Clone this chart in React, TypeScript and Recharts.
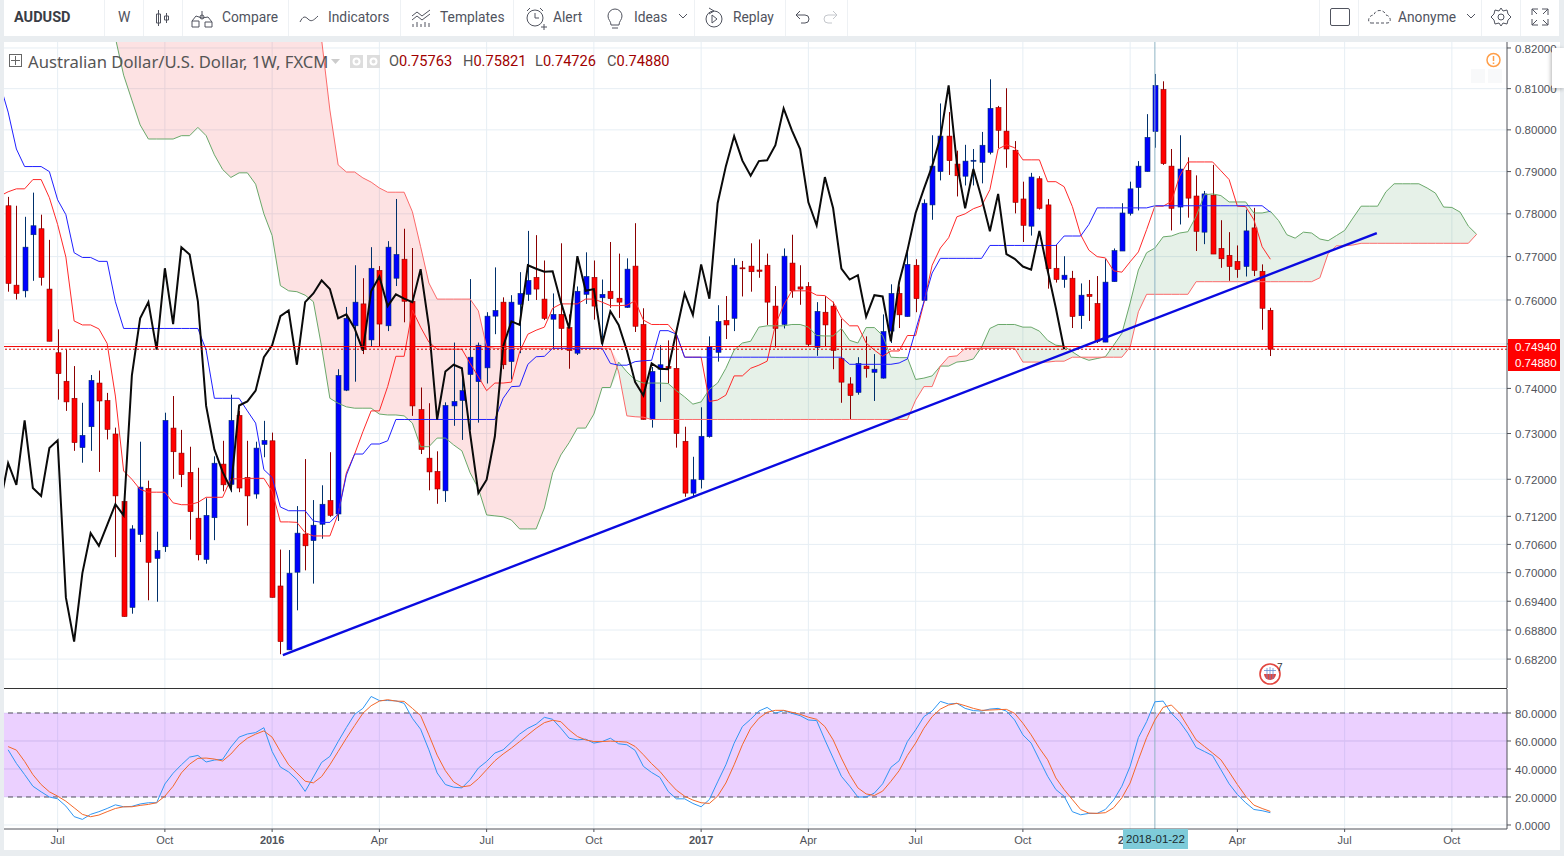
import React from 'react';
import {
	Area,
	Bar,
	CartesianGrid,
	ComposedChart,
	Line,
	ReferenceArea,
	ReferenceLine,
	XAxis,
	YAxis,
} from 'recharts';

// weekly AUDUSD, one entry per week
const opens = [
	0.7819, 0.7634, 0.7621, 0.7751, 0.7765, 0.7625, 0.748, 0.7416, 0.7378, 0.7269,
	0.7315, 0.7412, 0.7373, 0.7299, 0.7152, 0.6927, 0.7081, 0.718, 0.703, 0.7055,
	0.7312, 0.7257, 0.7215, 0.7116, 0.7028, 0.7117, 0.7233, 0.7189, 0.734, 0.7204,
	0.7168, 0.7276, 0.7284, 0.6972, 0.6839, 0.7001, 0.7082, 0.7068, 0.7103, 0.7154,
	0.7125, 0.7396, 0.7541, 0.7591, 0.7509, 0.7668, 0.7541, 0.765, 0.7694, 0.7597,
	0.7353, 0.7246, 0.7217, 0.7175, 0.7361, 0.7373, 0.7431, 0.7415, 0.7446, 0.7563,
	0.7595, 0.746, 0.759, 0.7613, 0.7652, 0.7602, 0.7556, 0.7567, 0.7537, 0.7479,
	0.7613, 0.7652, 0.7605, 0.762, 0.7604, 0.7583, 0.7678, 0.7544, 0.7331, 0.7443,
	0.7449, 0.7445, 0.7283, 0.717, 0.7199, 0.7293, 0.7481, 0.7553, 0.7558, 0.7674,
	0.7678, 0.7669, 0.768, 0.7586, 0.7544, 0.7685, 0.763, 0.7631, 0.7492, 0.7572,
	0.7586, 0.7467, 0.741, 0.7391, 0.745, 0.7436, 0.7423, 0.7529, 0.7615, 0.7562,
	0.768, 0.7599, 0.7821, 0.79, 0.7985, 0.7918, 0.7889, 0.7926, 0.7922, 0.7946,
	0.8054, 0.7997, 0.7951, 0.7835, 0.7771, 0.7883, 0.7821, 0.7673, 0.7647, 0.765,
	0.7564, 0.7613, 0.7592, 0.7504, 0.7642, 0.7713, 0.7801, 0.7862, 0.79, 0.7996,
	0.8098, 0.7913, 0.7816, 0.7903, 0.7842, 0.7757, 0.7844, 0.7719, 0.7703, 0.7689,
	0.7677, 0.7767, 0.7666, 0.75763,
];
const highs = [
	0.784, 0.7819, 0.7793, 0.785, 0.7798, 0.7739, 0.7533, 0.7487, 0.745, 0.7368,
	0.743, 0.744, 0.739, 0.7313, 0.7163, 0.7101, 0.7282, 0.7197, 0.7087, 0.7346,
	0.7383, 0.7308, 0.7271, 0.7225, 0.7159, 0.725, 0.7284, 0.7386, 0.735, 0.7284,
	0.7282, 0.7328, 0.7302, 0.7049, 0.7048, 0.7142, 0.7244, 0.7155, 0.7187, 0.7259,
	0.7443, 0.7584, 0.768, 0.765, 0.7722, 0.7678, 0.7736, 0.7835, 0.7765, 0.772,
	0.7402, 0.7367, 0.7261, 0.7369, 0.7503, 0.7446, 0.7648, 0.7503, 0.7572, 0.7675,
	0.7606, 0.7611, 0.7664, 0.776, 0.775, 0.7691, 0.7615, 0.7731, 0.7567, 0.7631,
	0.771, 0.7691, 0.7647, 0.7734, 0.7707, 0.7696, 0.7778, 0.7581, 0.7448, 0.7497,
	0.7508, 0.7526, 0.7315, 0.7249, 0.7358, 0.7517, 0.7588, 0.7609, 0.7696, 0.769,
	0.7731, 0.774, 0.7707, 0.7632, 0.7719, 0.7751, 0.768, 0.7641, 0.7595, 0.7609,
	0.7596, 0.7557, 0.7425, 0.747, 0.7517, 0.7477, 0.7567, 0.7636, 0.7631, 0.7711,
	0.7694, 0.7834, 0.7987, 0.8064, 0.8043, 0.795, 0.7964, 0.7954, 0.7995, 0.8123,
	0.8058, 0.8101, 0.7973, 0.7876, 0.7897, 0.7889, 0.7835, 0.7727, 0.7701, 0.7667,
	0.7638, 0.7646, 0.7655, 0.7694, 0.7719, 0.7825, 0.7876, 0.7925, 0.8038, 0.8136,
	0.8118, 0.7954, 0.7987, 0.7934, 0.7891, 0.7854, 0.7916, 0.7785, 0.7757, 0.7726,
	0.781, 0.7814, 0.7682, 0.75821,
];
const lows = [
	0.7619, 0.7601, 0.7606, 0.7644, 0.7633, 0.7506, 0.7375, 0.735, 0.7262, 0.7236,
	0.7262, 0.7216, 0.7287, 0.7033, 0.6908, 0.6914, 0.7065, 0.6942, 0.6939, 0.7044,
	0.7201, 0.7183, 0.707, 0.7026, 0.7019, 0.7069, 0.7174, 0.7172, 0.7172, 0.71,
	0.7158, 0.7248, 0.6948, 0.683, 0.6839, 0.6921, 0.7005, 0.6977, 0.7072, 0.7119,
	0.711, 0.7394, 0.7415, 0.7477, 0.7495, 0.7495, 0.7529, 0.7632, 0.7549, 0.7339,
	0.7255, 0.7176, 0.7147, 0.7151, 0.7317, 0.7286, 0.7308, 0.7324, 0.7411, 0.7522,
	0.7443, 0.742, 0.7479, 0.7598, 0.76, 0.7554, 0.7488, 0.7486, 0.7444, 0.7475,
	0.7591, 0.7555, 0.7493, 0.7582, 0.7559, 0.7582, 0.7527, 0.7331, 0.7313, 0.737,
	0.7411, 0.7269, 0.7162, 0.7163, 0.718, 0.7291, 0.746, 0.7511, 0.7529, 0.7608,
	0.7619, 0.7651, 0.7543, 0.7492, 0.7535, 0.7605, 0.7589, 0.7495, 0.7473, 0.7495,
	0.7443, 0.7368, 0.7331, 0.7386, 0.7424, 0.7372, 0.7422, 0.7502, 0.7536, 0.7562,
	0.7572, 0.7599, 0.7786, 0.7879, 0.7892, 0.7841, 0.7867, 0.7867, 0.7872, 0.7941,
	0.7956, 0.7909, 0.7801, 0.7734, 0.7749, 0.781, 0.7626, 0.764, 0.7628, 0.7536,
	0.7534, 0.7552, 0.7502, 0.7504, 0.7642, 0.7713, 0.7796, 0.7808, 0.79, 0.7957,
	0.7916, 0.7761, 0.7775, 0.7791, 0.7713, 0.7729, 0.7706, 0.7674, 0.7644, 0.7651,
	0.7654, 0.7655, 0.7532, 0.74726,
];
const closes = [
	0.7638, 0.7615, 0.7722, 0.7772, 0.7652, 0.7506, 0.7433, 0.737, 0.728, 0.7296,
	0.7418, 0.7372, 0.7309, 0.7164, 0.6908, 0.7093, 0.7183, 0.7022, 0.7047, 0.7329,
	0.726, 0.721, 0.713, 0.7038, 0.7122, 0.7235, 0.7188, 0.7329, 0.7181, 0.7164,
	0.7268, 0.7285, 0.6948, 0.6856, 0.6999, 0.7084, 0.7057, 0.7101, 0.7146, 0.7122,
	0.7429, 0.7558, 0.7595, 0.7487, 0.7673, 0.7545, 0.7722, 0.7705, 0.7597, 0.7361,
	0.7265, 0.7216, 0.7179, 0.7362, 0.7371, 0.7395, 0.747, 0.7497, 0.7563, 0.7576,
	0.7453, 0.7595, 0.7615, 0.7645, 0.7625, 0.7558, 0.7567, 0.7535, 0.7485, 0.762,
	0.7654, 0.7586, 0.7613, 0.7603, 0.7595, 0.7671, 0.754, 0.7331, 0.7438, 0.7453,
	0.7445, 0.73, 0.717, 0.7199, 0.7294, 0.7494, 0.7551, 0.7543, 0.768, 0.7672,
	0.7665, 0.7666, 0.7595, 0.7535, 0.7701, 0.7621, 0.7625, 0.7499, 0.7574, 0.7543,
	0.7485, 0.7414, 0.7384, 0.7456, 0.7444, 0.7443, 0.7528, 0.7615, 0.7566, 0.7682,
	0.7603, 0.7825, 0.7913, 0.7985, 0.7926, 0.789, 0.7925, 0.7927, 0.7963, 0.8052,
	0.7999, 0.7954, 0.7827, 0.7773, 0.7887, 0.7813, 0.7672, 0.7647, 0.7657, 0.7562,
	0.7611, 0.7608, 0.7506, 0.7641, 0.7714, 0.7802, 0.7859, 0.7913, 0.7982, 0.8108,
	0.7919, 0.7813, 0.7906, 0.7837, 0.7759, 0.7847, 0.7706, 0.7695, 0.7677, 0.767,
	0.776, 0.7668, 0.7581, 0.7488,
];

const tenkan = [
	0.7852, 0.7859, 0.7859, 0.7881, 0.7881, 0.7838, 0.7775, 0.7699, 0.7552, 0.7543,
	0.7543, 0.7534, 0.7501, 0.7383, 0.7218, 0.72, 0.7178, 0.7172, 0.7172, 0.7172,
	0.7149, 0.7145, 0.7145, 0.715, 0.7161, 0.7161, 0.7161, 0.7201, 0.7201, 0.7202,
	0.7202, 0.7202, 0.7174, 0.7108, 0.7108, 0.7107, 0.7085, 0.7078, 0.7078, 0.7078,
	0.7125, 0.7214, 0.7255, 0.7304, 0.735, 0.735, 0.7404, 0.7472, 0.7472, 0.7577,
	0.7538, 0.7504, 0.7488, 0.7488, 0.7488, 0.7488, 0.7456, 0.7426, 0.7395, 0.7412,
	0.7412, 0.7414, 0.7482, 0.7522, 0.7531, 0.7538, 0.7581, 0.7591, 0.7591, 0.7591,
	0.7602, 0.7602, 0.7595, 0.7587, 0.7587, 0.7588, 0.7598, 0.7554, 0.7544, 0.7544,
	0.7544, 0.7522, 0.747, 0.747, 0.747, 0.7371, 0.7374, 0.7385, 0.7428, 0.7428,
	0.7445, 0.7452, 0.7461, 0.7543, 0.7588, 0.7621, 0.7621, 0.7621, 0.7611, 0.761,
	0.7595, 0.7559, 0.7541, 0.7541, 0.7502, 0.7486, 0.7472, 0.7484, 0.7484, 0.7519,
	0.7519, 0.7593, 0.768, 0.772, 0.7744, 0.7793, 0.78, 0.7812, 0.7819, 0.7857,
	0.7954, 0.7964, 0.7957, 0.7928, 0.7928, 0.7928, 0.7876, 0.7876, 0.7864, 0.7817,
	0.7751, 0.7715, 0.77, 0.7697, 0.7667, 0.7664, 0.7688, 0.7711, 0.7763, 0.7818,
	0.7818, 0.7829, 0.7889, 0.7923, 0.7923, 0.7923, 0.7923, 0.7902, 0.7881, 0.7818,
	0.7817, 0.7786, 0.7723, 0.7694,
];
const kijun = [
	0.8043, 0.7954, 0.7912, 0.7912, 0.7912, 0.79, 0.7833, 0.7798, 0.7709, 0.7698,
	0.7698, 0.7689, 0.7689, 0.7596, 0.7535, 0.7535, 0.7535, 0.7535, 0.7535, 0.7535,
	0.7535, 0.7535, 0.7535, 0.7535, 0.7486, 0.7378, 0.7378, 0.7378, 0.7378, 0.735,
	0.7323, 0.7221, 0.7204, 0.714, 0.7132, 0.7132, 0.7132, 0.711, 0.7107, 0.7107,
	0.7125, 0.7209, 0.7255, 0.7255, 0.7277, 0.7277, 0.7284, 0.7331, 0.7331, 0.7331,
	0.7331, 0.7331, 0.7331, 0.7331, 0.7331, 0.7331, 0.7331, 0.7331, 0.7331, 0.7331,
	0.7378, 0.7404, 0.7405, 0.7454, 0.7471, 0.7472, 0.749, 0.749, 0.749, 0.749,
	0.749, 0.749, 0.749, 0.7456, 0.7452, 0.7452, 0.746, 0.7462, 0.7463, 0.753,
	0.753, 0.7522, 0.747, 0.747, 0.747, 0.747, 0.747, 0.747, 0.747, 0.747,
	0.747, 0.747, 0.747, 0.747, 0.747, 0.747, 0.747, 0.747, 0.747, 0.747,
	0.747, 0.747, 0.7454, 0.7454, 0.7454, 0.7454, 0.7454, 0.7454, 0.7457, 0.7466,
	0.7531, 0.7596, 0.7662, 0.7696, 0.7696, 0.7696, 0.7696, 0.7696, 0.7696, 0.7726,
	0.7726, 0.7726, 0.7726, 0.7726, 0.7726, 0.7726, 0.7726, 0.7726, 0.7748, 0.7748,
	0.7748, 0.7775, 0.7814, 0.7814, 0.7814, 0.7814, 0.7814, 0.7814, 0.7814, 0.7819,
	0.7819, 0.7819, 0.7819, 0.7819, 0.7819, 0.7819, 0.7819, 0.7819, 0.7819, 0.7819,
	0.7819, 0.7819, 0.7819, 0.7804,
];
// lagging span, ends 25 weeks before the last candle
const chikou = [
	0.7235, 0.7188, 0.7329, 0.7181, 0.7164, 0.7268, 0.7285, 0.6948, 0.6856, 0.6999,
	0.7084, 0.7057, 0.7101, 0.7146, 0.7122, 0.7429, 0.7558, 0.7595, 0.7487, 0.7673,
	0.7545, 0.7722, 0.7705, 0.7597, 0.7361, 0.7265, 0.7216, 0.7179, 0.7362, 0.7371,
	0.7395, 0.747, 0.7497, 0.7563, 0.7576, 0.7453, 0.7595, 0.7615, 0.7645, 0.7625,
	0.7558, 0.7567, 0.7535, 0.7485, 0.762, 0.7654, 0.7586, 0.7613, 0.7603, 0.7595,
	0.7671, 0.754, 0.7331, 0.7438, 0.7453, 0.7445, 0.73, 0.717, 0.7199, 0.7294,
	0.7494, 0.7551, 0.7543, 0.768, 0.7672, 0.7665, 0.7666, 0.7595, 0.7535, 0.7701,
	0.7621, 0.7625, 0.7499, 0.7574, 0.7543, 0.7485, 0.7414, 0.7384, 0.7456, 0.7444,
	0.7443, 0.7528, 0.7615, 0.7566, 0.7682, 0.7603, 0.7825, 0.7913, 0.7985, 0.7926,
	0.789, 0.7925, 0.7927, 0.7963, 0.8052, 0.7999, 0.7954, 0.7827, 0.7773, 0.7887,
	0.7813, 0.7672, 0.7647, 0.7657, 0.7562, 0.7611, 0.7608, 0.7506, 0.7641, 0.7714,
	0.7802, 0.7859, 0.7913, 0.7982, 0.8108, 0.7919, 0.7813, 0.7906, 0.7837, 0.7759,
	0.7847, 0.7706, 0.7695, 0.7677, 0.767, 0.776, 0.7668, 0.7581, 0.7488,
];
// the week just off the left edge, the lines run out of the frame there
const leadIn = { idx: -1, tenkan: 0.7842, kijun: 0.8112, chikou: 0.7144 };

// cloud edges start at week 13 and run 25 weeks past the last candle
const cloudStart = 13;
const senkouA = [
	0.8225, 0.8133, 0.8072, 0.8012, 0.7978, 0.7978, 0.7978, 0.7978, 0.7986, 0.7986,
	0.8006, 0.7986, 0.794, 0.7905, 0.7886, 0.7897, 0.7897, 0.787, 0.78, 0.7749,
	0.7633, 0.7621, 0.7619, 0.7611, 0.7596, 0.7493, 0.7378, 0.7367, 0.7359, 0.7356,
	0.7356, 0.7356, 0.7343, 0.7341, 0.7341, 0.7339, 0.7323, 0.7271, 0.7271, 0.729,
	0.729, 0.7275, 0.7262, 0.7214, 0.718, 0.7123, 0.7121, 0.7119, 0.7112, 0.7093,
	0.7093, 0.7093, 0.7138, 0.7214, 0.7253, 0.728, 0.7312, 0.7312, 0.7343, 0.7402,
	0.7402, 0.7459, 0.7437, 0.7419, 0.7412, 0.7412, 0.7412, 0.7411, 0.7395, 0.7381,
	0.7365, 0.737, 0.7398, 0.7412, 0.7445, 0.7486, 0.7502, 0.7506, 0.7538, 0.7541,
	0.7541, 0.7541, 0.7544, 0.7544, 0.7538, 0.7519, 0.7518, 0.7518, 0.7535, 0.7508,
	0.7502, 0.7537, 0.7537, 0.7519, 0.747, 0.7469, 0.7469, 0.742, 0.7423, 0.7428,
	0.745, 0.745, 0.7459, 0.7461, 0.7466, 0.7493, 0.7535, 0.7544, 0.7544, 0.7544,
	0.7538, 0.7538, 0.7529, 0.7508, 0.7497, 0.7495, 0.7482, 0.747, 0.7463, 0.7467,
	0.7471, 0.7497, 0.7524, 0.7593, 0.7669, 0.7709, 0.772, 0.7746, 0.7748, 0.7755,
	0.7758, 0.7794, 0.7845, 0.7847, 0.7843, 0.7828, 0.7828, 0.7828, 0.7802, 0.7802,
	0.7806, 0.7784, 0.7751, 0.7743, 0.7757, 0.7755, 0.7741, 0.7737, 0.7749, 0.7761,
	0.779, 0.7818, 0.7818, 0.7818, 0.7852, 0.7871, 0.7871, 0.7871, 0.7871, 0.7861,
	0.7849, 0.7816, 0.7815, 0.7804, 0.7771, 0.7752,
];
const senkouB = [
	0.83, 0.83, 0.83, 0.83, 0.83, 0.83, 0.83, 0.83, 0.83, 0.83,
	0.83, 0.83, 0.83, 0.83, 0.83, 0.83, 0.83, 0.83, 0.83, 0.83,
	0.83, 0.83, 0.83, 0.83, 0.83, 0.822, 0.8048, 0.7916, 0.7899, 0.7899,
	0.7885, 0.7875, 0.7861, 0.7851, 0.7851, 0.7851, 0.7805, 0.7723, 0.7639, 0.7602,
	0.7602, 0.7602, 0.7602, 0.7602, 0.7575, 0.7493, 0.749, 0.749, 0.749, 0.749,
	0.749, 0.749, 0.749, 0.749, 0.749, 0.749, 0.749, 0.749, 0.749, 0.749,
	0.749, 0.7437, 0.7339, 0.7337, 0.7336, 0.7331, 0.7331, 0.7331, 0.7331, 0.7331,
	0.7331, 0.7331, 0.7331, 0.7331, 0.7331, 0.7331, 0.7331, 0.7331, 0.7331, 0.7331,
	0.7331, 0.7331, 0.7331, 0.7331, 0.7331, 0.7331, 0.7331, 0.7331, 0.7331, 0.7331,
	0.7331, 0.7331, 0.7331, 0.7331, 0.7331, 0.7331, 0.7331, 0.7374, 0.7404, 0.7404,
	0.745, 0.7471, 0.7473, 0.749, 0.749, 0.749, 0.749, 0.749, 0.749, 0.749,
	0.7459, 0.7459, 0.7459, 0.7459, 0.7461, 0.7461, 0.747, 0.747, 0.747, 0.747,
	0.747, 0.747, 0.747, 0.7493, 0.7573, 0.7613, 0.7613, 0.7613, 0.7613, 0.7613,
	0.7613, 0.7642, 0.7642, 0.7642, 0.7642, 0.7642, 0.7642, 0.7642, 0.7642, 0.7642,
	0.7642, 0.7642, 0.7642, 0.7642, 0.7642, 0.7642, 0.7651, 0.7707, 0.7725, 0.7725,
	0.7727, 0.7731, 0.7731, 0.7731, 0.7731, 0.7731, 0.7731, 0.7731, 0.7731, 0.7731,
	0.7731, 0.7731, 0.7731, 0.7731, 0.7731, 0.7752,
];

const stochK = [
	53.7, 44, 36, 27.7, 23.7, 20, 18.7, 13.5, 6, 4,
	7.6, 9.5, 11.8, 14.4, 13, 13.3, 15, 15.9, 15.9, 29.3,
	37, 43, 48.5, 49.7, 45, 46.4, 46.9, 55.7, 62.8, 65,
	66, 69.5, 52.5, 41.4, 37.9, 32.4, 24, 34.3, 44.7, 49,
	59.6, 69.6, 79, 83.3, 91.8, 88.9, 88.9, 88.7, 86.9, 76.2,
	68.4, 53.7, 37.2, 28.9, 27, 26.5, 32.4, 40.7, 45.4, 51.4,
	53.7, 59.2, 64.9, 69.1, 72, 76.9, 75.5, 69.1, 62, 60.8,
	61.3, 58.5, 59.6, 62, 58, 57.3, 53.3, 41.9, 37.5, 34,
	24, 18.7, 18.7, 15.4, 13, 18.2, 30.8, 43, 58.4, 70.3,
	75.5, 81.4, 84, 79.8, 81.7, 79.8, 78.1, 75, 74.6, 60.8,
	47.8, 34.8, 27.7, 20, 20, 22.8, 29.4, 41.2, 45.9, 59.6,
	67.9, 77.4, 81.4, 88.3, 86.4, 86.9, 83.3, 81.7, 81.4, 82.8,
	83.3, 81.4, 75, 64.4, 58.5, 46.6, 34.8, 25.3, 20.5, 9.5,
	7.3, 8.3, 8.3, 11.1, 17.8, 27.7, 41.9, 62.4, 73.8, 88,
	88.5, 79.8, 73.8, 65.6, 55.4, 52.5, 49.5, 39.5, 29.4, 21.8,
	15.9, 11.1, 10.2, 8.8,
];
const stochD = [
	56, 53.5, 45.4, 36, 28.9, 23.7, 20.6, 17, 12.3, 7.6,
	5.9, 7.1, 9.5, 11.8, 13, 13, 14, 14.7, 15.9, 20.6,
	27.7, 37.2, 43.5, 47.6, 47.8, 47.1, 45.7, 50.7, 57.3, 62,
	64.9, 67.2, 62.7, 52.5, 43, 37.2, 31.3, 30.1, 34.6, 43,
	52.5, 62, 71, 79.8, 85.2, 88.5, 89.5, 88.5, 88.3, 83.3,
	78.1, 64.4, 49.9, 38.8, 30.8, 27.2, 28.1, 33.1, 39.5, 45.9,
	50.7, 54.9, 59.6, 64.4, 69.1, 73.1, 74.8, 73.8, 67.9, 63.2,
	60.8, 59.6, 59.6, 59.9, 59.6, 59.2, 56.1, 50.2, 43.8, 38.3,
	31.2, 24.9, 20.6, 17.8, 15.9, 15.4, 20.6, 30, 43, 57.3,
	69.1, 76.2, 80.5, 81.9, 81.9, 80.5, 79.1, 77, 75.5, 70.3,
	60.8, 47.8, 36, 26.5, 22.2, 21.1, 24.2, 31.2, 38.8, 49.7,
	58.5, 69.1, 77.4, 82.8, 85.7, 86.9, 85.2, 83.3, 81.9, 82.1,
	82.4, 82.6, 79.8, 72.7, 64.4, 54.9, 46.6, 33.6, 25.3, 18.2,
	11.1, 8.5, 8.3, 8.8, 12.3, 19.4, 30, 46.6, 62.4, 75,
	84, 85.7, 79.8, 70.3, 60.8, 56.1, 51.4, 46.6, 37.9, 28.9,
	20.6, 14.2, 11.8, 9.7,
];

const priceTicks = [
	0.82, 0.81, 0.8, 0.79, 0.78, 0.77, 0.76, 0.75, 0.74, 0.73, 0.72, 0.712, 0.706,
	0.7, 0.694, 0.688, 0.682,
];
const stochTicks = [80, 60, 40, 20, 0];
const dateTicks = [6, 19, 32, 45, 58, 71, 84, 97, 110, 123, 136, 149, 162, 175];
const dateLabels = [
	'Jul', 'Oct', '2016', 'Apr', 'Jul', 'Oct', '2017', 'Apr', 'Jul', 'Oct', '2018',
	'Apr', 'Jul', 'Oct',
];

const weeks = Array.from({ length: 182 }, (_, idx) => {
	const a = senkouA[idx - cloudStart];
	const b = senkouB[idx - cloudStart];
	const hasCloud = a !== undefined && b !== undefined;
	return {
		idx,
		open: opens[idx],
		high: highs[idx],
		low: lows[idx],
		close: closes[idx],
		range: highs[idx] ? [lows[idx], highs[idx]] : null,
		tenkan: tenkan[idx],
		kijun: kijun[idx],
		chikou: chikou[idx],
		a,
		b,
		green: hasCloud ? [Math.min(a, b), a] : null,
		red: hasCloud ? [a, Math.max(a, b)] : null,
		k: stochK[idx],
		d: stochD[idx],
	};
});
const rows = [leadIn, ...weeks];

const X_DOMAIN = [-0.5, 181.68];
const GRID = '#e6eef4';
const AXIS = '#50535a';
const FONT = '"Liberation Sans", Arial, sans-serif';

const Candle = (props: any) => {
	const { x, y, width, height, payload } = props;
	if (!payload || payload.open === undefined || !height) return null;
	const { open, high, low, close } = payload;
	const span = Math.log(high) - Math.log(low);
	const at = (v: number) => y + (height * (Math.log(high) - Math.log(v))) / span;
	const down = close < open;
	const cx = Math.floor(x + width / 2) + 0.5;
	const top = at(Math.max(open, close));
	const bottom = at(Math.min(open, close));
	const edge = down ? '#8b0000' : '#00306b';
	return (
		<g>
			<line x1={cx} x2={cx} y1={y} y2={y + height} stroke={edge} strokeWidth={1} />
			<rect
				x={cx - 2.5}
				y={top}
				width={5}
				height={Math.max(bottom - top, 1)}
				fill={down ? '#ff0000' : '#0000ff'}
				stroke={edge}
				strokeWidth={0.6}
			/>
		</g>
	);
};

const DateTick = (props: any) => {
	const { x, y, payload } = props;
	const label = dateLabels[dateTicks.indexOf(payload.value)];
	const year = label.startsWith('20');
	return (
		<text
			x={x}
			y={y + 10}
			textAnchor='middle'
			fontSize={11}
			fontFamily={FONT}
			fontWeight={year ? 700 : 400}
			fill={AXIS}
		>
			{label}
		</text>
	);
};

const MainChart = () => (
	<ComposedChart
		width={1556}
		height={646}
		data={rows}
		margin={{ top: 0, right: 0, bottom: 0, left: 0 }}
		style={{ position: 'absolute', left: 4, top: 42 }}
	>
		<CartesianGrid stroke={GRID} syncWithTicks />
		<XAxis
			dataKey='idx'
			type='number'
			domain={X_DOMAIN}
			ticks={dateTicks}
			allowDataOverflow
			hide
		/>
		<YAxis
			orientation='right'
			width={53}
			scale='log'
			domain={[0.67608, 0.82148]}
			allowDataOverflow
			ticks={priceTicks}
			interval={0}
			// 0.75000 sits under the last-price labels, the reference hides it
			tickFormatter={(v: number) => (v === 0.75 ? '' : v.toFixed(5))}
			tick={{ fontSize: 11.5, fill: AXIS, fontFamily: FONT, dy: 0.5 }}
			tickSize={4}
			tickMargin={4}
			stroke={AXIS}
		/>
		<Area
			dataKey='green'
			stroke='none'
			fill='#0b7a1e'
			fillOpacity={0.1}
			isAnimationActive={false}
			dot={false}
			activeDot={false}
		/>
		<Area
			dataKey='red'
			stroke='none'
			fill='#ee1c24'
			fillOpacity={0.13}
			isAnimationActive={false}
			dot={false}
			activeDot={false}
		/>
		<Line dataKey='a' stroke='#6aa86a' strokeWidth={1} dot={false} activeDot={false} isAnimationActive={false} />
		<Line dataKey='b' stroke='#fb6a6a' strokeWidth={1} dot={false} activeDot={false} isAnimationActive={false} />
		<Line dataKey='tenkan' stroke='#ff2a2a' strokeWidth={1} dot={false} activeDot={false} isAnimationActive={false} />
		<Line dataKey='kijun' stroke='#2020ff' strokeWidth={1} dot={false} activeDot={false} isAnimationActive={false} />
		<ReferenceLine x={139} stroke='#8fb4c4' strokeWidth={1} />
		<Bar dataKey='range' barSize={7} shape={Candle} isAnimationActive={false} />
		<Line dataKey='chikou' stroke='#0a0a0a' strokeWidth={2} dot={false} activeDot={false} isAnimationActive={false} />
		<ReferenceLine y={0.7494} stroke='#f00000' strokeWidth={1} />
		<ReferenceLine y={0.7488} stroke='#d00000' strokeWidth={1} strokeDasharray='2 2' />
		<ReferenceLine
			segment={[
				{ x: 33.3, y: 0.6828 },
				{ x: 165.9, y: 0.7755 },
			]}
			stroke='#0a0ae0'
			strokeWidth={2.4}
		/>
	</ComposedChart>
);

const StochChart = () => (
	<ComposedChart
		width={1556}
		height={161}
		data={rows}
		margin={{ top: 0, right: 0, bottom: 0, left: 0 }}
		style={{ position: 'absolute', left: 4, top: 689 }}
	>
		<CartesianGrid stroke={GRID} syncWithTicks />
		<XAxis
			dataKey='idx'
			type='number'
			domain={X_DOMAIN}
			ticks={dateTicks}
			interval={0}
			allowDataOverflow
			height={21}
			tick={DateTick}
			tickSize={3}
			stroke={AXIS}
		/>
		<YAxis
			orientation='right'
			width={53}
			domain={[-2.86, 97.14]}
			allowDataOverflow
			ticks={stochTicks}
			interval={0}
			tickFormatter={(v: number) => v.toFixed(4)}
			tick={{ fontSize: 11.5, fill: AXIS, fontFamily: FONT, dy: 0.5 }}
			tickSize={4}
			tickMargin={4}
			stroke={AXIS}
		/>
		<ReferenceArea y1={20} y2={80} fill='#9915ff' fillOpacity={0.2} stroke='none' />
		<ReferenceLine y={60} stroke='#d8bff2' />
		<ReferenceLine y={40} stroke='#d8bff2' />
		<ReferenceLine y={80} stroke='#55505f' strokeDasharray='5 4' />
		<ReferenceLine y={20} stroke='#55505f' strokeDasharray='5 4' />
		<ReferenceLine x={139} stroke='#8fb4c4' strokeWidth={1} />
		<Line dataKey='k' stroke='#2f96f3' strokeWidth={1} dot={false} activeDot={false} isAnimationActive={false} />
		<Line dataKey='d' stroke='#f4682a' strokeWidth={1} dot={false} activeDot={false} isAnimationActive={false} />
	</ComposedChart>
);

const Label = ({ x, y, size = 13.8, color = '#50535e', weight = 400, font = 'Roboto', children }: any) => (
	<span
		style={{
			position: 'absolute',
			left: x,
			top: y,
			transform: 'translateY(-50%)',
			fontSize: size,
			color,
			fontWeight: weight,
			fontFamily: font,
			whiteSpace: 'nowrap',
		}}
	>
		{children}
	</span>
);

const Icon = ({ x, y = 6, w = 24, h = 24, children }: any) => (
	<svg
		width={w}
		height={h}
		viewBox={`0 0 ${w} ${h}`}
		fill='none'
		stroke='#50535e'
		strokeWidth={1}
		style={{ position: 'absolute', left: x, top: y }}
	>
		{children}
	</svg>
);

const separators = [104, 143, 182, 288, 400, 513, 594, 694, 785, 847, 1319, 1358, 1481, 1520];

const Toolbar = () => (
	<>
		<div style={{ position: 'absolute', left: 4, top: 0, width: 1555, height: 36, background: '#fff' }} />
		{separators.map((x) => (
			<div key={x} style={{ position: 'absolute', left: x, top: 0, width: 1, height: 36, background: '#eef1f4' }} />
		))}
		<Label x={14} y={17} size={14.5} weight={700} color='#3a3d45'>AUDUSD</Label>
		<Label x={118} y={17} size={14}>W</Label>
		<Icon x={152}>
			<path d="M6.5 4v16M4.5 8h4v9h-4zM14.5 7v10M12.5 10h4v4h-4z" />
		</Icon>
		<Icon x={190}>
			<path d="M12 5v6M2 15l4-5 6 2 6-1 4 5M2 15v6h7v-6zM15 16v5h7v-5z" />
			<circle cx={12} cy={11} r={2} />
		</Icon>
		<Label x={222} y={17}>Compare</Label>
		<Icon x={298}>
			<path d="M2 16c3-6 5-6 8-3s5 2 10-3" />
		</Icon>
		<Label x={328} y={17}>Indicators</Label>
		<Icon x={410}>
			<path d="M2 10l5-4 5 4 8-6M2 14l5-4 5 4 8-6M3 21v-3M7 21v-5M11 21v-3M15 21v-5M19 21v-4" />
		</Icon>
		<Label x={440} y={17}>Templates</Label>
		<Icon x={524}>
			<circle cx={11} cy={12} r={8} />
			<path d="M11 7v5h4M3 5l3-3M19 5l-3-3M17 21h6M20 18v6" />
		</Icon>
		<Label x={553} y={17}>Alert</Label>
		<Icon x={603}>
			<path d="M8 19c0-4-3-5-3-9a7 7 0 0 1 14 0c0 4-3 5-3 9zM9 22h6" />
		</Icon>
		<Label x={634} y={17}>Ideas</Label>
		<Icon x={678} y={11} w={10} h={10}>
			<path d="M1 3l4 4 4-4" />
		</Icon>
		<Icon x={703}>
			<circle cx={11} cy={13} r={8} />
			<path d="M9 9l5 4-5 4zM6 2l5 3-5 3" />
		</Icon>
		<Label x={733} y={17}>Replay</Label>
		<Icon x={795} y={9} w={16} h={16}>
			<path d="M1 6h9a4 4 0 0 1 0 8H6M1 6l4-4M1 6l4 4" />
		</Icon>
		<Icon x={822} y={9} w={16} h={16}>
			<path d="M15 6H6a4 4 0 0 0 0 8h4M15 6l-4-4M15 6l-4 4" stroke='#c4c7cc' />
		</Icon>
		<div style={{ position: 'absolute', left: 1330, top: 8, width: 18, height: 16, border: '1px solid #50535e', borderRadius: 2 }} />
		<Icon x={1366} y={6} w={26} h={20}>
			<path d="M5 17h16c5 0 4-7-1-8-2-6-11-6-12 0-6 0-7 8-3 8z" strokeDasharray='3 2' />
		</Icon>
		<Label x={1398} y={17}>Anonyme</Label>
		<Icon x={1466} y={12} w={10} h={10}>
			<path d="M1 2l4 4 4-4" />
		</Icon>
		<Icon x={1489}>
			<circle cx={12} cy={11} r={3} />
			<path d="M12 2l2 3 4-1 1 4 3 3-3 3-1 4-4-1-2 3-2-3-4 1-1-4-3-3 3-3 1-4 4 1z" />
		</Icon>
		<Icon x={1528}>
			<path d="M4 9V3h6M20 9V3h-6M4 13v6h6M20 13v6h-6M4 3l5 5M20 3l-5 5M4 19l5-5M20 19l-5-5" />
		</Icon>
	</>
);

const Legend = () => (
	<>
		<div style={{ position: 'absolute', left: 9, top: 54, width: 11, height: 11, border: '1px solid #666' }} />
		<div style={{ position: 'absolute', left: 11, top: 60, width: 9, height: 1, background: '#666' }} />
		<div style={{ position: 'absolute', left: 15, top: 56, width: 1, height: 9, background: '#666' }} />
		<Label x={28} y={61} size={16.65} color='#555' font='"Noto Sans"'>Australian Dollar/U.S. Dollar, 1W, FXCM</Label>
		<svg width={10} height={6} style={{ position: 'absolute', left: 331, top: 59 }}>
			<path d="M0 0h9l-4.5 5z" fill='#ccc' />
		</svg>
		<svg width={32} height={14} style={{ position: 'absolute', left: 350, top: 55 }}>
			<rect width={13} height={13} fill='#ddd' />
			<rect x={17} width={13} height={13} fill='#ddd' />
			<circle cx={6.5} cy={6.5} r={3} fill='none' stroke='#fff' strokeWidth={2} />
			<circle cx={23.5} cy={6.5} r={3} fill='none' stroke='#fff' strokeWidth={2} />
		</svg>
		<Label x={389} y={61} size={14.6} color='#555'>O<span style={{ color: '#a00000' }}>0.75763</span></Label>
		<Label x={463} y={61} size={14.6} color='#555'>H<span style={{ color: '#a00000' }}>0.75821</span></Label>
		<Label x={535} y={61} size={14.6} color='#555'>L<span style={{ color: '#a00000' }}>0.74726</span></Label>
		<Label x={607} y={61} size={14.6} color='#555'>C<span style={{ color: '#a00000' }}>0.74880</span></Label>
	</>
);

const Overlays = () => (
	<>
		<div style={{ position: 'absolute', left: 1508, top: 339, width: 52, height: 32, background: '#ff0000' }} />
		<Label x={1515} y={347} size={11.5} color='#fff' font={FONT}>0.74940</Label>
		<Label x={1515} y={363} size={11.5} color='#fff' font={FONT}>0.74880</Label>
		<svg width={16} height={16} style={{ position: 'absolute', left: 1486, top: 52 }}>
			<circle cx={7.5} cy={8} r={6.5} fill='none' stroke='#ff9f4a' strokeWidth={1.5} />
			<path d="M7.5 4v5M7.5 10.5v1.5" stroke='#ff9f4a' strokeWidth={1.5} />
		</svg>
		<div style={{ position: 'absolute', left: 1471, top: 69, width: 14, height: 14, background: '#f8f9fa' }} />
		<div style={{ position: 'absolute', left: 1488, top: 69, width: 14, height: 14, background: '#f8f9fa' }} />
		<div style={{ position: 'absolute', left: 1552, top: 48, width: 12, height: 40, background: '#fff', boxShadow: '-1px 1px 4px rgba(0,0,0,.3)' }} />
		<svg width={26} height={26} style={{ position: 'absolute', left: 1258, top: 662 }}>
			<circle cx={12} cy={12} r={10} fill='#fff' stroke='#e2463f' strokeWidth={1.6} />
			<path d="M6 12h12a6 6 0 0 1-12 0z" fill='#e2463f' />
			<path d="M6 8.5h12M9 6v11M12 5v13M15 6v11" stroke='#6b8ecf' strokeWidth={0.8} />
		</svg>
		<Label x={1277} y={667} size={10} color='#333' font={FONT}>7</Label>
		<div style={{ position: 'absolute', left: 1123, top: 829, width: 65, height: 20, background: '#7ecbd9', textAlign: 'center', lineHeight: '20px', fontSize: 11.5, color: '#1c2b30', fontFamily: FONT }}>
			2018-01-22
		</div>
	</>
);

export default function App() {
	return (
		<div style={{ position: 'fixed', left: 0, top: 0, width: 1564, height: 856, background: '#e9edf0', overflow: 'hidden' }}>
			<Toolbar />
			<div style={{ position: 'absolute', left: 4, top: 42, width: 1556, height: 808, background: '#fff' }} />
			<MainChart />
			<StochChart />
			<div style={{ position: 'absolute', left: 4, top: 688, width: 1503, height: 1, background: '#333' }} />
			<Legend />
			<Overlays />
		</div>
	);
}
